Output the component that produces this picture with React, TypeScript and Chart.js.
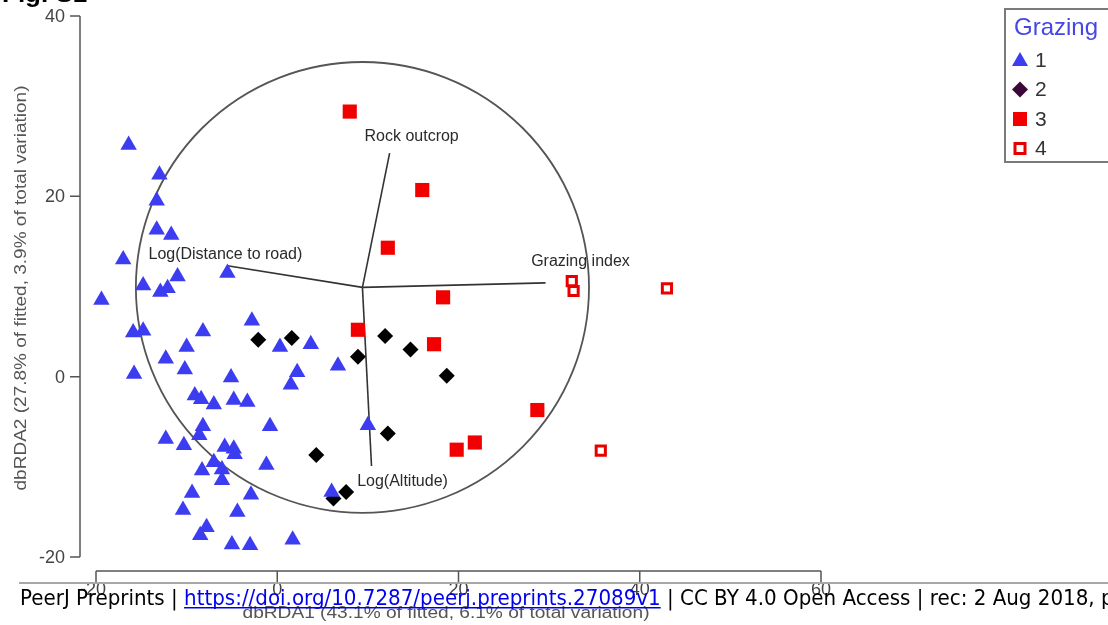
import React, { useEffect, useRef } from 'react';
import { Chart, registerables } from 'chart.js';

Chart.register(...registerables);

// ---- Data ----
// Grazing 1 (blue triangles)
const g1X = [-16.4, -13.0, -13.3, -13.3, -11.7, -17.0, -11.0, -5.5, -14.8, -12.9, -12.1, -19.4, -15.9, -14.8, -2.8, -8.2, -10.0, -15.8, -12.3, -10.2, -5.1, 0.3, 3.7, 2.2, 1.5, 6.7, -9.1, -8.4, -7.0, -4.8, -3.3, -0.8, -8.2, -8.6, -12.3, -10.3, -5.8, -4.8, -4.7, -7.0, -8.3, -6.1, -6.1, -1.2, -9.4, -2.9, -10.4, -4.4, -7.8, -8.5, -5.0, -3.0, 1.7, 10.0, 6.0];
const g1Y = [25.7, 22.4, 19.5, 16.3, 15.7, 13.0, 11.1, 11.5, 10.1, 9.4, 9.8, 8.5, 4.9, 5.1, 6.2, 5.0, 3.3, 0.3, 2.0, 0.8, -0.1, 3.3, 3.6, 0.5, -0.9, 1.2, -2.1, -2.5, -3.1, -2.6, -2.8, -5.5, -5.5, -6.5, -6.9, -7.6, -7.8, -8.0, -8.6, -9.5, -10.4, -10.3, -11.5, -9.8, -12.9, -13.1, -14.8, -15.0, -16.7, -17.6, -18.6, -18.7, -18.1, -5.4, -12.8];
// Grazing 2 (black diamonds)
const g2X = [-2.1, 1.6, 8.9, 11.9, 14.7, 18.7, 12.2, 4.3, 7.6, 6.2];
const g2Y = [4.1, 4.3, 2.2, 4.5, 3.0, 0.1, -6.3, -8.7, -12.8, -13.5];
// Grazing 3 (filled red squares)
const g3X = [8.0, 16.0, 12.2, 18.3, 8.9, 17.3, 28.7, 19.8, 21.8];
const g3Y = [29.4, 20.7, 14.3, 8.8, 5.2, 3.6, -3.7, -8.1, -7.3];
// Grazing 4 (open red squares)
const g4X = [32.5, 32.7, 43.0, 35.7];
const g4Y = [10.6, 9.5, 9.8, -8.2];

const groupLabels = ['1', '2', '3', '4'];
const legendTitle = 'Grazing';

// Vector overlay (dbRDA predictors)
const vectorLabels = ['Rock outcrop', 'Log(Distance to road)', 'Grazing index', 'Log(Altitude)'];
const vectorX = [12.4, -5.5, 29.6, 10.4];
const vectorY = [24.8, 12.3, 10.4, -9.9];
const originX = 9.4;
const originY = 9.9;
const circleRadius = 25;

// Axes
const xTicks = [-20, 0, 20, 40, 60];
const yTicks = [-20, 0, 20, 40];
const xTitle = 'dbRDA1 (43.1% of fitted, 6.1% of total variation)';
const yTitle = 'dbRDA2 (27.8% of fitted, 3.9% of total variation)';
const figTitle = 'Fig. S1';
const footerParts = [
  { t: 'PeerJ Preprints | ', link: false },
  { t: 'https://doi.org/10.7287/peerj.preprints.27089v1', link: true },
  { t: ' | CC BY 4.0 Open Access | rec: 2 Aug 2018, publ: 2 Aug 2018', link: false },
];

// ---- Styles ----
const W = 1108;
const H = 625;
const BLUE = '#3c3cf0';
const BLACK = '#000000';
const RED = '#f20000';
const labelOffsets = [
  [22, -16],
  [-2, -11],
  [35, -21],
  [31, 16],
];

const pts = (xs: number[], ys: number[]) => xs.map((x, i) => ({ x, y: ys[i] }));

function fillFit(ctx: CanvasRenderingContext2D, text: string, x: number, y: number, target: number) {
  const w = ctx.measureText(text).width;
  const s = target / w;
  ctx.save();
  ctx.translate(x, y);
  ctx.scale(s, 1);
  ctx.textAlign = 'center';
  ctx.fillText(text, 0, 0);
  ctx.restore();
}

function drawMarker(ctx: CanvasRenderingContext2D, kind: number, x: number, y: number) {
  ctx.save();
  ctx.beginPath();
  if (kind === 0) {
    ctx.fillStyle = BLUE;
    ctx.moveTo(x, y - 8);
    ctx.lineTo(x + 8, y + 6);
    ctx.lineTo(x - 8, y + 6);
    ctx.closePath();
    ctx.fill();
  } else if (kind === 1) {
    ctx.fillStyle = '#3a0838';
    ctx.moveTo(x, y - 8);
    ctx.lineTo(x + 8, y);
    ctx.lineTo(x, y + 8);
    ctx.lineTo(x - 8, y);
    ctx.closePath();
    ctx.fill();
  } else if (kind === 2) {
    ctx.fillStyle = RED;
    ctx.fillRect(x - 7, y - 7, 14, 14);
  } else {
    ctx.fillStyle = '#fff';
    ctx.strokeStyle = '#e80000';
    ctx.lineWidth = 3;
    ctx.fillRect(x - 5, y - 5, 10, 10);
    ctx.strokeRect(x - 5, y - 5, 10, 10);
  }
  ctx.restore();
}

const decorPlugin = {
  id: 'decor',
  beforeDatasetsDraw(chart: any) {
    const ctx: CanvasRenderingContext2D = chart.ctx;
    const xs = chart.scales.x;
    const ys = chart.scales.y;
    const cx = xs.getPixelForValue(originX);
    const cy = ys.getPixelForValue(originY);
    const rx = Math.abs(xs.getPixelForValue(originX + circleRadius) - cx);
    const ry = Math.abs(ys.getPixelForValue(originY + circleRadius) - cy);
    ctx.save();
    ctx.strokeStyle = '#555555';
    ctx.lineWidth = 1.8;
    ctx.beginPath();
    ctx.ellipse(cx, cy, rx, ry, 0, 0, Math.PI * 2);
    ctx.stroke();
    ctx.restore();
  },
  afterDraw(chart: any) {
    const ctx: CanvasRenderingContext2D = chart.ctx;
    const xs = chart.scales.x;
    const ys = chart.scales.y;
    const area = chart.chartArea;
    ctx.save();

    // vector labels
    ctx.font = '16px "Liberation Sans", Arial, sans-serif';
    ctx.fillStyle = '#2a2a2a';
    ctx.textAlign = 'center';
    ctx.textBaseline = 'middle';
    vectorLabels.forEach((lab, i) => {
      const px = xs.getPixelForValue(vectorX[i]) + labelOffsets[i][0];
      const py = ys.getPixelForValue(vectorY[i]) + labelOffsets[i][1];
      ctx.fillText(lab, px, py);
    });

    // y axis
    const axisColor = '#555';
    const yAxisX = area.left - 16;
    ctx.strokeStyle = axisColor;
    ctx.lineWidth = 1.5;
    ctx.beginPath();
    ctx.moveTo(yAxisX, ys.getPixelForValue(yTicks[yTicks.length - 1]));
    ctx.lineTo(yAxisX, ys.getPixelForValue(yTicks[0]));
    yTicks.forEach((t) => {
      const py = ys.getPixelForValue(t);
      ctx.moveTo(yAxisX - 10, py);
      ctx.lineTo(yAxisX, py);
    });
    ctx.stroke();
    ctx.font = '18px "Liberation Sans", Arial, sans-serif';
    ctx.fillStyle = '#444';
    ctx.textAlign = 'right';
    ctx.textBaseline = 'middle';
    yTicks.forEach((t) => ctx.fillText(String(t), yAxisX - 15, ys.getPixelForValue(t) + 1));

    // x axis
    const xAxisY = area.bottom + 14;
    ctx.beginPath();
    ctx.moveTo(xs.getPixelForValue(xTicks[0]), xAxisY);
    ctx.lineTo(xs.getPixelForValue(xTicks[xTicks.length - 1]), xAxisY);
    xTicks.forEach((t) => {
      const px = xs.getPixelForValue(t);
      ctx.moveTo(px, xAxisY);
      ctx.lineTo(px, xAxisY + 11);
    });
    ctx.stroke();
    ctx.textAlign = 'center';
    ctx.textBaseline = 'top';
    xTicks.forEach((t) => ctx.fillText(String(t), xs.getPixelForValue(t) - (t < 0 ? 3 : 0), xAxisY + 10));

    // axis titles
    ctx.font = '16px "Liberation Sans", Arial, sans-serif';
    ctx.fillStyle = '#555';
    ctx.textBaseline = 'middle';
    fillFit(ctx, xTitle, 446, 614, 407);
    ctx.save();
    ctx.translate(22, 288);
    ctx.rotate(-Math.PI / 2);
    fillFit(ctx, yTitle, 0, 0, 405);
    ctx.restore();

    // legend
    ctx.strokeStyle = '#7a7a7a';
    ctx.lineWidth = 2;
    ctx.strokeRect(1005, 9, 120, 153);
    ctx.font = '24px "Liberation Sans", Arial, sans-serif';
    ctx.fillStyle = '#4646e4';
    ctx.textAlign = 'left';
    ctx.textBaseline = 'alphabetic';
    ctx.fillText(legendTitle, 1014, 35);
    ctx.font = '21px "Liberation Sans", Arial, sans-serif';
    ctx.fillStyle = '#333';
    ctx.textBaseline = 'middle';
    groupLabels.forEach((lab, i) => {
      const my = 60 + i * 29.5;
      drawMarker(ctx, i, 1020, my);
      ctx.fillText(lab, 1035, my + 1);
    });

    // figure heading (mostly cut off at top)
    ctx.font = 'bold 26px "Liberation Sans", Arial, sans-serif';
    ctx.fillStyle = '#000';
    ctx.textBaseline = 'alphabetic';
    ctx.fillText(figTitle, 2, 2);

    // footer overlay
    ctx.strokeStyle = '#a8a8a8';
    ctx.lineWidth = 2;
    ctx.beginPath();
    ctx.moveTo(19, 583);
    ctx.lineTo(W, 583);
    ctx.stroke();
    ctx.font = '21px "DejaVu Sans", sans-serif';
    ctx.textBaseline = 'alphabetic';
    const refText = 'PeerJ Preprints | https://doi.org/10.7287/peerj.preprints.27089v1 | CC BY 4.0 Open Access | rec: 2 Aug 2018, ';
    const sx = 1081 / ctx.measureText(refText).width;
    ctx.save();
    ctx.translate(20, 605);
    ctx.scale(sx, 1);
    let cur = 0;
    footerParts.forEach((p) => {
      const w = ctx.measureText(p.t).width;
      ctx.fillStyle = p.link ? '#0000ee' : '#000';
      ctx.fillText(p.t, cur, 0);
      if (p.link) {
        ctx.fillRect(cur, 2, w, 1.5);
      }
      cur += w;
    });
    ctx.restore();

    ctx.restore();
  },
};

export default function App() {
  const ref = useRef<HTMLCanvasElement | null>(null);
  useEffect(() => {
    if (!ref.current) return;
    const vectorSets = vectorLabels.map((lab, i) => ({
      label: lab,
      data: [
        { x: originX, y: originY },
        { x: vectorX[i], y: vectorY[i] },
      ],
      showLine: true,
      borderColor: '#333333',
      borderWidth: 1.6,
      pointRadius: 0,
      order: 2,
      clip: false as any,
    }));
    const chart = new Chart(ref.current, {
      type: 'scatter',
      data: {
        datasets: [
          {
            label: groupLabels[0],
            data: pts(g1X, g1Y),
            pointStyle: 'triangle',
            pointRadius: 9.5,
            backgroundColor: BLUE,
            borderColor: BLUE,
            borderWidth: 0,
            order: 1,
            clip: false as any,
          },
          {
            label: groupLabels[1],
            data: pts(g2X, g2Y),
            pointStyle: 'rectRot',
            pointRadius: 8,
            backgroundColor: BLACK,
            borderColor: BLACK,
            borderWidth: 0,
            order: 1,
            clip: false as any,
          },
          {
            label: groupLabels[2],
            data: pts(g3X, g3Y),
            pointStyle: 'rect',
            pointRadius: 10,
            backgroundColor: RED,
            borderColor: RED,
            borderWidth: 0,
            order: 1,
            clip: false as any,
          },
          {
            label: groupLabels[3],
            data: pts(g4X, g4Y),
            pointStyle: 'rect',
            pointRadius: 6.5,
            backgroundColor: '#ffffff',
            borderColor: '#e80000',
            borderWidth: 3,
            order: 1,
            clip: false as any,
          },
          ...vectorSets,
        ] as any,
      },
      options: {
        animation: false,
        responsive: false,
        devicePixelRatio: 1,
        layout: { padding: { left: 96, right: W - 821, top: 16, bottom: H - 557 } },
        scales: {
          x: { type: 'linear', min: -20, max: 60, display: false },
          y: { type: 'linear', min: -20, max: 40, display: false },
        },
        plugins: {
          legend: { display: false },
          tooltip: { enabled: false },
        },
      },
      plugins: [decorPlugin],
    });
    return () => chart.destroy();
  }, []);
  return (
    <div style={{ position: 'absolute', left: 0, top: 0, width: W, height: H, background: '#fff' }}>
      <canvas ref={ref} width={W} height={H} style={{ display: 'block', width: W, height: H }} />
    </div>
  );
}
